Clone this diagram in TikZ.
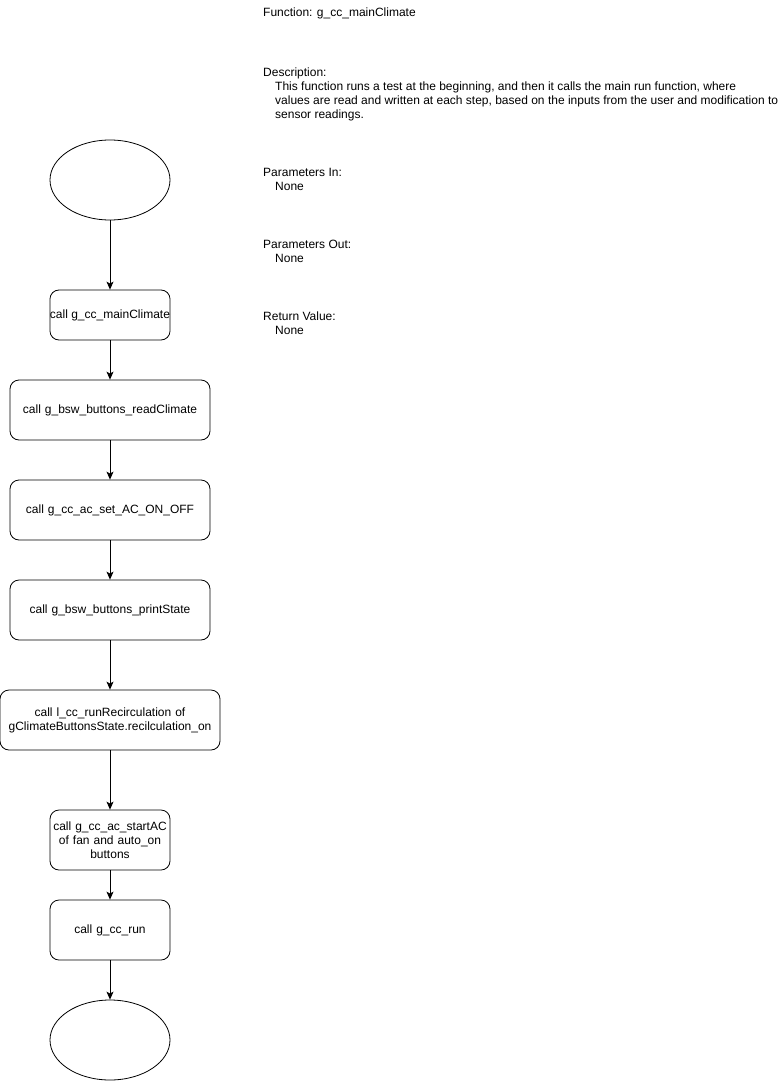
\documentclass[tikz,border=0pt]{standalone}
\usepackage{fontspec}
\setmainfont{Liberation Sans}
\usetikzlibrary{arrows.meta,shapes.geometric}
\begin{document}
\begin{tikzpicture}[x=1pt,y=-1pt,
  every node/.style={font=\fontsize{12}{14}\selectfont, inner sep=0pt},
  procbox/.style={draw, line width=0.8pt, rounded corners=9pt, align=center},
  term/.style={draw, line width=0.8pt, ellipse, minimum width=120pt, minimum height=80pt},
  flow/.style={draw, line width=0.8pt, -{Stealth[length=8pt,width=7pt,inset=2pt]}},
  info/.style={anchor=base west, align=left}
]
\useasboundingbox (0,0) rectangle (781,1081);
\node[term] (start) at (110,180) {};
\node[procbox, minimum width=120pt, minimum height=50pt] (b1) at (110,315) {call g\_cc\_mainClimate};
\node[procbox, minimum width=200pt, minimum height=60pt, text width=190pt] (b2) at (110,410) {call g\_bsw\_buttons\_readClimate};
\node[procbox, minimum width=200pt, minimum height=60pt, text width=190pt] (b3) at (110,510) {call g\_cc\_ac\_set\_AC\_ON\_OFF};
\node[procbox, minimum width=200pt, minimum height=60pt, text width=190pt] (b4) at (110,610) {call g\_bsw\_buttons\_printState};
\node[procbox, minimum width=220pt, minimum height=60pt, text width=218pt] (b5) at (110,720) {call l\_cc\_runRecirculation of\\gClimateButtonsState.recilculation\_on};
\node[procbox, minimum width=120pt, minimum height=60pt, text width=118pt] (b6) at (110,840) {call g\_cc\_ac\_startAC\\of fan and auto\_on\\buttons};
\node[procbox, minimum width=120pt, minimum height=60pt, text width=118pt] (b7) at (110,930) {call g\_cc\_run};
\node[term] (stop) at (110,1040) {};
\draw[flow] (start) -- (b1);
\draw[flow] (b1) -- (b2);
\draw[flow] (b2) -- (b3);
\draw[flow] (b3) -- (b4);
\draw[flow] (b4) -- (b5);
\draw[flow] (b5) -- (b6);
\draw[flow] (b6) -- (b7);
\draw[flow] (b7) -- (stop);
\node[info] (fn) at (263,17) {Function: g\_cc\_mainClimate};
\node[info] (desc) at (263,76) {Description:};
\node[info] (d1) at (275,90) {This function runs a test at the beginning, and then it calls the main run function, where};
\node[info] (d2) at (275,104) {values are read and written at each step, based on the inputs from the user and modification to};
\node[info] (d3) at (275,118) {sensor readings.};
\node[info] (pin) at (263,176) {Parameters In:};
\node[info] (pinv) at (275,190) {None};
\node[info] (pout) at (263,248) {Parameters Out:};
\node[info] (poutv) at (275,262) {None};
\node[info] (ret) at (263,320) {Return Value:};
\node[info] (retv) at (275,334) {None};
\end{tikzpicture}
\end{document}
